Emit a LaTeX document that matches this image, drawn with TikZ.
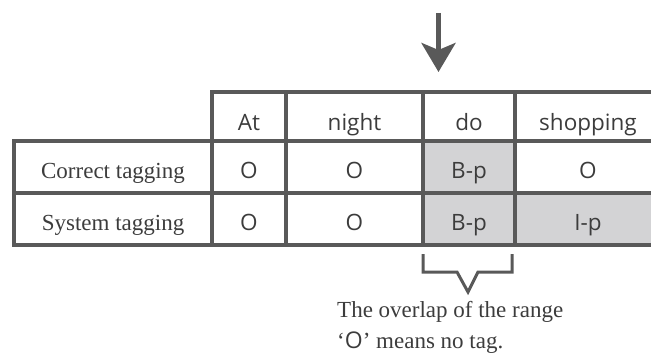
\documentclass[tikz,border=0pt]{standalone}
\usepackage{fontspec}
\setmainfont{Liberation Serif}
\newfontfamily\cellfont{Open Sans}
\usetikzlibrary{arrows.meta}
\definecolor{linegray}{HTML}{595959}
\definecolor{cellfill}{HTML}{D3D3D5}
\definecolor{txtgray}{HTML}{3C3C3C}
\tikzset{
  cellbox/.style={draw=linegray, line width=4pt, inner sep=0pt, anchor=north west,
    text=txtgray, font=\cellfont\fontsize{22.5}{26}\selectfont,
    text height=26pt, text depth=4pt},
  headbox/.style={cellbox, text height=30pt, text depth=2pt},
  labelbox/.style={cellbox, font=\fontsize{23}{27}\selectfont},
  hl/.style={fill=cellfill},
  note/.style={anchor=base west, inner sep=0pt, text=txtgray, font=\fontsize{23}{27}\selectfont}
}
\begin{document}
\begin{tikzpicture}[x=1pt,y=-1pt]
\useasboundingbox (0,0) rectangle (651,353);
\clip (0,0) rectangle (651,353);
% header row
\node[headbox, minimum width=74pt, minimum height=49pt] (hAt) at (210,90) {At};
\node[headbox, minimum width=137pt, minimum height=49pt] (hNight) at (284,90) {night};
\node[headbox, minimum width=92pt, minimum height=49pt] (hDo) at (421,90) {do};
\node[headbox, minimum width=146pt, minimum height=49pt] (hShop) at (513,90) {shopping};
% row 1
\node[labelbox, minimum width=198pt, minimum height=52pt] (lCorrect) at (12,139) {Correct tagging};
\node[cellbox, minimum width=74pt, minimum height=52pt] (c1) at (210,139) {O};
\node[cellbox, minimum width=137pt, minimum height=52pt] (c2) at (284,139) {O};
\node[cellbox, hl, minimum width=92pt, minimum height=52pt] (c3) at (421,139) {B-p};
\node[cellbox, minimum width=146pt, minimum height=52pt] (c4) at (513,139) {O};
% row 2
\node[labelbox, minimum width=198pt, minimum height=52pt] (lSystem) at (12,191) {System tagging};
\node[cellbox, minimum width=74pt, minimum height=52pt] (s1) at (210,191) {O};
\node[cellbox, minimum width=137pt, minimum height=52pt] (s2) at (284,191) {O};
\node[cellbox, hl, minimum width=92pt, minimum height=52pt] (s3) at (421,191) {B-p};
\node[cellbox, hl, minimum width=146pt, minimum height=52pt] (s4) at (513,191) {I-p};
% arrow
\coordinate (arrTop) at (438.5,13);
\coordinate (arrTip) at (438.5,72);
\draw[linegray, line width=5pt, -{Stealth[length=29pt,width=34pt,inset=7pt]}] (arrTop) -- (arrTip);
% brace
\draw[linegray, line width=3pt, line join=miter]
  (423,254) -- (423,272) -- (457,272) -- (468,292) -- (478,272) -- (512,272) -- (512,254);
% notes
\node[note] (n1) at (337,317) {The overlap of the range};
\node[note] (n2) at (337,348) {‘\cellfont O\rmfamily’ means no tag.};
\end{tikzpicture}
\end{document}
